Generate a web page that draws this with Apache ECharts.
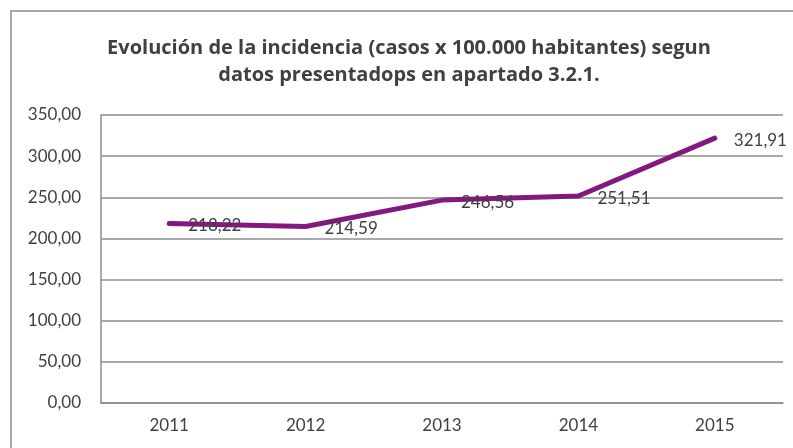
<!DOCTYPE html>
<html>
<head>
<meta charset="utf-8">
<script src="https://cdn.jsdelivr.net/npm/echarts@6/dist/echarts.min.js"></script>
<style>
  html, body { margin: 0; padding: 0; background: #fff; }
  #chart { width: 793px; height: 448px; }
</style>
</head>
<body>
<div id="chart"></div>
<script>
// incidencia por año
var years = ["2011", "2012", "2013", "2014", "2015"];
var incidencia = [218.22, 214.59, 246.56, 251.51, 321.91];
var yMin = 0, yMax = 350, yStep = 50;

function fmtComa(v) {
  return v.toFixed(2).replace(".", ",");
}

var myChart = echarts.init(document.getElementById('chart'));

var option = {
  backgroundColor: '#ffffff',
  animation: false,
  textStyle: { fontFamily: 'Lato', color: '#404040' },
  title: {
    text: 'Evolución de la incidencia (casos x 100.000 habitantes) segun\ndatos presentadops en apartado 3.2.1.',
    left: 404,
    top: 30,
    textAlign: 'center',
    textStyle: {
      fontFamily: 'Open Sans',
      fontWeight: 'bold',
      fontSize: 20,
      lineHeight: 27,
      color: '#404040'
    }
  },
  graphic: [{
    type: 'rect',
    shape: { x: 11, y: 11, width: 800, height: 460 },
    style: { fill: 'none', stroke: '#8c8c8c', lineWidth: 1.5 },
    silent: true
  }],
  grid: { left: 101, right: 10, top: 115, bottom: 45 },
  xAxis: {
    type: 'category',
    data: years,
    boundaryGap: true,
    axisLine: { show: true, lineStyle: { color: '#8c8c8c', width: 1.5 } },
    axisTick: { show: false },
    axisLabel: { color: '#404040', fontSize: 17, margin: 14, fontFamily: 'Lato' }
  },
  yAxis: {
    type: 'value',
    min: yMin,
    max: yMax,
    interval: yStep,
    axisLine: { show: true, lineStyle: { color: '#8c8c8c', width: 1.5 } },
    axisTick: { show: false },
    splitLine: { show: true, lineStyle: { color: '#8c8c8c', width: 1.5 } },
    axisLabel: {
      color: '#404040',
      fontSize: 17,
      margin: 20,
      fontFamily: 'Lato',
      formatter: function (v) { return fmtComa(v); }
    }
  },
  series: [{
    name: 'Incidencia',
    type: 'line',
    data: incidencia,
    showSymbol: true,
    symbol: 'circle',
    symbolSize: 2,
    itemStyle: { color: 'rgba(131,25,127,0)', borderWidth: 0 },
    lineStyle: { color: '#83197f', width: 5, cap: 'round', join: 'round' },
    label: {
      show: true,
      position: 'right',
      distance: 18,
      offset: [0, 2],
      color: '#404040',
      fontSize: 17,
      fontFamily: 'Lato',
      formatter: function (p) { return fmtComa(p.value); }
    }
  }]
};

myChart.setOption(option);
</script>
</body>
</html>
